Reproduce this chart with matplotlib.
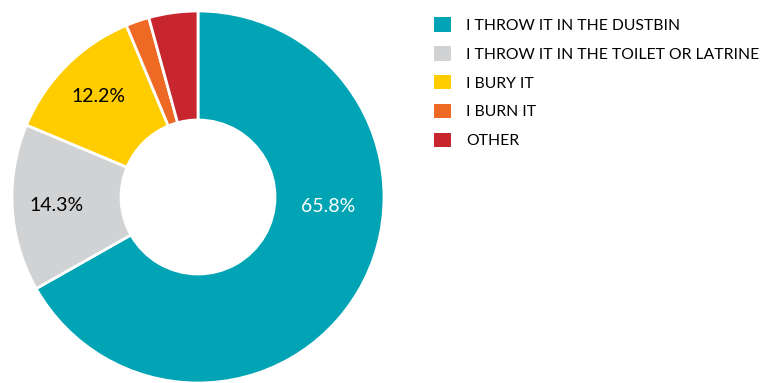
import matplotlib.pyplot as plt
import numpy as np
from matplotlib.patches import Patch

plt.rcParams['font.family'] = ['Lato', 'DejaVu Sans']

# Disposal answers and their shares (%)
categories = ['I THROW IT IN THE DUSTBIN', 'I THROW IT IN THE TOILET OR LATRINE',
              'I BURY IT', 'I BURN IT', 'OTHER']
shares = [65.8, 14.3, 12.2, 2.0, 4.2]
labels = ['65.8%', '14.3%', '12.2%', '', '']
colors = ['#00A4B4', '#D1D2D4', '#FFCC00', '#EE6A24', '#C8262F']

fig = plt.figure(figsize=(7.6, 3.83), dpi=100)
ax = fig.add_axes([12 / 760, 0, 372 / 760, 372 / 383])

wedges, _ = ax.pie(shares, colors=colors, startangle=90, counterclock=False,
                   radius=1.0,
                   wedgeprops=dict(width=0.586, edgecolor='white', linewidth=2))
ax.set_xlim(-1, 1)
ax.set_ylim(-1, 1)
ax.set_aspect('equal')
ax.axis('off')

# percentage labels inside the ring
for w, lab in zip(wedges, labels):
    if not lab:
        continue
    mid = np.deg2rad((w.theta1 + w.theta2) / 2)
    r = 0.76
    x, y = r * np.cos(mid), r * np.sin(mid)
    col = 'black'
    if lab == '65.8%':
        # big slice: label sits to the right of the hole
        x, y = 0.70, -0.05
        col = 'white'
    ax.text(x, y, lab, ha='center', va='center', fontsize=14, color=col)

handles = [Patch(facecolor=c, edgecolor='none') for c in colors]
fig.legend(handles, categories, loc='upper left', bbox_to_anchor=(428 / 760, 1 - 11 / 383),
           frameon=False, fontsize=11.3, handlelength=1.05, handleheight=1.05,
           handletextpad=1.0, labelspacing=0.84, borderaxespad=0)

fig.savefig('out.png', dpi=100)
